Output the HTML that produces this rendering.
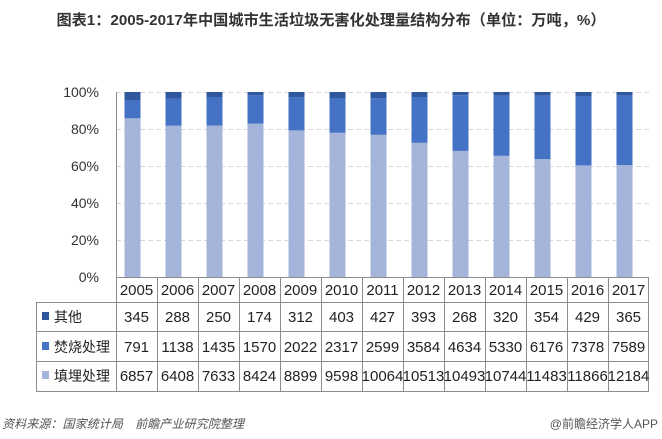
<!DOCTYPE html>
<html><head><meta charset="utf-8"><style>
html,body{margin:0;padding:0;background:#fff;}
svg{display:block;}
text{font-family:"Liberation Sans","Noto Sans CJK SC",sans-serif;}
</style></head><body>
<svg width="662" height="439" viewBox="0 0 662 439" xmlns="http://www.w3.org/2000/svg">
<text x="331" y="25" font-size="15" font-weight="bold" fill="#333" text-anchor="middle" textLength="549" lengthAdjust="spacingAndGlyphs">图表1：2005-2017年中国城市生活垃圾无害化处理量结构分布（单位：万吨，%）</text>
<!-- gridlines -->
<g stroke="#d9d9d9" stroke-width="1" stroke-dasharray="5,3">
<line x1="116" y1="92.5" x2="652" y2="92.5"/>
<line x1="116" y1="129.5" x2="652" y2="129.5"/>
<line x1="116" y1="166.5" x2="652" y2="166.5"/>
<line x1="116" y1="203.5" x2="652" y2="203.5"/>
<line x1="116" y1="240.5" x2="652" y2="240.5"/>
</g>
<!-- y labels -->
<g font-size="14" fill="#333" text-anchor="end">
<text x="99" y="97">100%</text>
<text x="99" y="134">80%</text>
<text x="99" y="171">60%</text>
<text x="99" y="208">40%</text>
<text x="99" y="245">20%</text>
<text x="99" y="282">0%</text>
</g>
<!-- bars -->
<g>
<rect x="124.5" y="118.3" width="16" height="158.7" fill="#A5B4DA"/><rect x="124.5" y="100.0" width="16" height="18.3" fill="#4472C4"/><rect x="124.5" y="92" width="16" height="8.0" fill="#30589F"/>
<rect x="165.5" y="125.7" width="16" height="151.3" fill="#A5B4DA"/><rect x="165.5" y="98.8" width="16" height="26.9" fill="#4472C4"/><rect x="165.5" y="92" width="16" height="6.8" fill="#30589F"/>
<rect x="206.5" y="125.5" width="16" height="151.5" fill="#A5B4DA"/><rect x="206.5" y="97.0" width="16" height="28.5" fill="#4472C4"/><rect x="206.5" y="92" width="16" height="5.0" fill="#30589F"/>
<rect x="247.5" y="123.7" width="16" height="153.3" fill="#A5B4DA"/><rect x="247.5" y="95.1" width="16" height="28.6" fill="#4472C4"/><rect x="247.5" y="92" width="16" height="3.1" fill="#30589F"/>
<rect x="288.5" y="130.4" width="16" height="146.6" fill="#A5B4DA"/><rect x="288.5" y="97.1" width="16" height="33.3" fill="#4472C4"/><rect x="288.5" y="92" width="16" height="5.1" fill="#30589F"/>
<rect x="329.5" y="132.8" width="16" height="144.2" fill="#A5B4DA"/><rect x="329.5" y="98.0" width="16" height="34.8" fill="#4472C4"/><rect x="329.5" y="92" width="16" height="6.0" fill="#30589F"/>
<rect x="370.5" y="134.8" width="16" height="142.2" fill="#A5B4DA"/><rect x="370.5" y="98.1" width="16" height="36.7" fill="#4472C4"/><rect x="370.5" y="92" width="16" height="6.1" fill="#30589F"/>
<rect x="411.5" y="142.8" width="16" height="134.2" fill="#A5B4DA"/><rect x="411.5" y="97.0" width="16" height="45.8" fill="#4472C4"/><rect x="411.5" y="92" width="16" height="5.0" fill="#30589F"/>
<rect x="452.5" y="150.9" width="16" height="126.1" fill="#A5B4DA"/><rect x="452.5" y="95.2" width="16" height="55.7" fill="#4472C4"/><rect x="452.5" y="92" width="16" height="3.2" fill="#30589F"/>
<rect x="493.5" y="155.8" width="16" height="121.2" fill="#A5B4DA"/><rect x="493.5" y="95.7" width="16" height="60.1" fill="#4472C4"/><rect x="493.5" y="92" width="16" height="3.7" fill="#30589F"/>
<rect x="534.5" y="159.1" width="16" height="117.9" fill="#A5B4DA"/><rect x="534.5" y="95.7" width="16" height="63.4" fill="#4472C4"/><rect x="534.5" y="92" width="16" height="3.7" fill="#30589F"/>
<rect x="575.5" y="165.4" width="16" height="111.6" fill="#A5B4DA"/><rect x="575.5" y="96.0" width="16" height="69.4" fill="#4472C4"/><rect x="575.5" y="92" width="16" height="4.0" fill="#30589F"/>
<rect x="616.5" y="165.1" width="16" height="111.9" fill="#A5B4DA"/><rect x="616.5" y="95.4" width="16" height="69.7" fill="#4472C4"/><rect x="616.5" y="92" width="16" height="3.4" fill="#30589F"/>
</g>
<!-- axis & table lines -->
<g stroke="#8c8c8c" stroke-width="1">
<line x1="116.5" y1="92" x2="116.5" y2="391"/>
<line x1="116" y1="277.5" x2="649" y2="277.5"/>
<line x1="36" y1="302.5" x2="649" y2="302.5"/>
<line x1="36" y1="331.5" x2="649" y2="331.5"/>
<line x1="36" y1="361.5" x2="649" y2="361.5"/>
<line x1="36" y1="391.5" x2="649" y2="391.5"/>
<line x1="36.5" y1="302" x2="36.5" y2="391"/>
<line x1="157.5" y1="277" x2="157.5" y2="391"/>
<line x1="198.5" y1="277" x2="198.5" y2="391"/>
<line x1="239.5" y1="277" x2="239.5" y2="391"/>
<line x1="280.5" y1="277" x2="280.5" y2="391"/>
<line x1="321.5" y1="277" x2="321.5" y2="391"/>
<line x1="362.5" y1="277" x2="362.5" y2="391"/>
<line x1="403.5" y1="277" x2="403.5" y2="391"/>
<line x1="444.5" y1="277" x2="444.5" y2="391"/>
<line x1="485.5" y1="277" x2="485.5" y2="391"/>
<line x1="526.5" y1="277" x2="526.5" y2="391"/>
<line x1="567.5" y1="277" x2="567.5" y2="391"/>
<line x1="608.5" y1="277" x2="608.5" y2="391"/>
<line x1="648.5" y1="277" x2="648.5" y2="391"/>
</g>
<!-- legend -->
<rect x="42" y="312" width="7" height="8" fill="#30589F"/>
<rect x="42" y="342" width="7" height="8" fill="#4472C4"/>
<rect x="42" y="371" width="7" height="8" fill="#A5B4DA"/>
<g font-size="14" fill="#222">
<text x="54" y="322">其他</text>
<text x="54" y="352">焚烧处理</text>
<text x="54" y="381">填埋处理</text>
</g>
<!-- table text -->
<g font-size="15" fill="#222" text-anchor="middle">
<g transform="translate(0,295)">
<text x="136.5">2005</text><text x="177.5">2006</text><text x="218.5">2007</text><text x="259.5">2008</text><text x="300.5">2009</text><text x="341.5">2010</text><text x="382.5">2011</text><text x="423.5">2012</text><text x="464.5">2013</text><text x="505.5">2014</text><text x="546.5">2015</text><text x="587.5">2016</text><text x="628.5">2017</text>
</g>
<g transform="translate(0,322)">
<text x="136.5">345</text><text x="177.5">288</text><text x="218.5">250</text><text x="259.5">174</text><text x="300.5">312</text><text x="341.5">403</text><text x="382.5">427</text><text x="423.5">393</text><text x="464.5">268</text><text x="505.5">320</text><text x="546.5">354</text><text x="587.5">429</text><text x="628.5">365</text>
</g>
<g transform="translate(0,352)">
<text x="136.5">791</text><text x="177.5">1138</text><text x="218.5">1435</text><text x="259.5">1570</text><text x="300.5">2022</text><text x="341.5">2317</text><text x="382.5">2599</text><text x="423.5">3584</text><text x="464.5">4634</text><text x="505.5">5330</text><text x="546.5">6176</text><text x="587.5">7378</text><text x="628.5">7589</text>
</g>
<g transform="translate(0,381)">
<text x="136.5">6857</text><text x="177.5">6408</text><text x="218.5">7633</text><text x="259.5">8424</text><text x="300.5">8899</text><text x="341.5">9598</text><text x="382.5">10064</text><text x="423.5">10513</text><text x="464.5">10493</text><text x="505.5">10744</text><text x="546.5">11483</text><text x="587.5">11866</text><text x="628.5">12184</text>
</g>
</g>
<!-- footer -->
<text x="2" y="428" font-size="12" fill="#555" font-style="italic" textLength="242" lengthAdjust="spacingAndGlyphs">资料来源：国家统计局　前瞻产业研究院整理</text>
<text x="658" y="428" font-size="12" fill="#555" text-anchor="end">@前瞻经济学人APP</text>
</svg>
</body></html>
